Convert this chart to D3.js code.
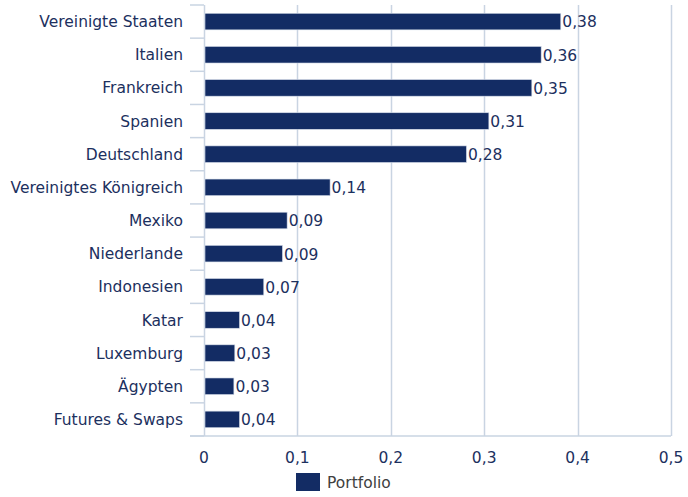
<!DOCTYPE html>
<html>
<head>
<meta charset="utf-8">
<script src="https://cdn.jsdelivr.net/npm/d3@7"></script>
<style>
  body { margin: 0; background: #fff; }
  text { font-family: "DejaVu Sans", Verdana, sans-serif; }
</style>
</head>
<body>
<div id="plot_area"></div>
<script>
// data
var countries = ["Vereinigte Staaten", "Italien", "Frankreich", "Spanien", "Deutschland",
  "Vereinigtes Königreich", "Mexiko", "Niederlande", "Indonesien", "Katar",
  "Luxemburg", "Ägypten", "Futures & Swaps"]
var portfolio = [0.382, 0.361, 0.351, 0.305, 0.281, 0.135, 0.089, 0.084, 0.064, 0.038, 0.033, 0.032, 0.038]
var valueLabels = ["0,38", "0,36", "0,35", "0,31", "0,28", "0,14", "0,09", "0,09", "0,07", "0,04", "0,03", "0,03", "0,04"]
var xTicks = [0, 0.1, 0.2, 0.3, 0.4, 0.5]
var seriesName = "Portfolio"

var W = 688, H = 497
var margin = {top: 5, right: 17, bottom: 61, left: 204}
var width = W - margin.left - margin.right,
    height = H - margin.top - margin.bottom

var barColor = "#132c64", textColor = "#1c305e", gridColor = "#c9d4e2"
var fs = 15.5

var svg = d3.select("#plot_area").append("svg")
  .attr("width", W).attr("height", H)

var g = svg.append("g")
  .attr("transform", "translate(" + margin.left + "," + margin.top + ")")

var x = d3.scaleLinear().domain([0, 0.5]).range([0, width])
var y = d3.scaleBand().domain(countries).range([0, height]).paddingInner(0.5).paddingOuter(0.25)

// vertical gridlines
g.selectAll(".grid")
  .data(xTicks.slice(1))
  .enter().append("line")
  .attr("class", "grid")
  .attr("x1", function(d) { return Math.round(x(d)) + 0.5 })
  .attr("x2", function(d) { return Math.round(x(d)) + 0.5 })
  .attr("y1", 0).attr("y2", height)
  .attr("stroke", gridColor).attr("stroke-width", 1.5)

// left axis with ticks between categories
var step = height / countries.length
var sep = d3.range(countries.length + 1)
g.selectAll(".sep")
  .data(sep)
  .enter().append("line")
  .attr("x1", -14).attr("x2", 0)
  .attr("y1", function(d) { return d * step }).attr("y2", function(d) { return d * step })
  .attr("stroke", gridColor).attr("stroke-width", 1.5)
g.append("line")
  .attr("x1", 0.5).attr("x2", 0.5).attr("y1", 0).attr("y2", height)
  .attr("stroke", gridColor).attr("stroke-width", 1.5)
g.append("line")
  .attr("x1", -14).attr("x2", width).attr("y1", height).attr("y2", height)
  .attr("stroke", gridColor).attr("stroke-width", 1.5)

// category labels
g.selectAll(".cat")
  .data(countries)
  .enter().append("text")
  .attr("x", -21)
  .attr("y", function(d) { return y(d) + y.bandwidth() / 2 })
  .attr("dy", "0.36em")
  .attr("text-anchor", "end")
  .attr("font-size", fs)
  .attr("fill", textColor)
  .text(function(d) { return d })

// x tick labels
g.selectAll(".xt")
  .data(xTicks)
  .enter().append("text")
  .attr("x", function(d) { return x(d) })
  .attr("y", height + 27)
  .attr("text-anchor", "middle")
  .attr("font-size", fs)
  .attr("fill", textColor)
  .text(function(d) { return String(d).replace(".", ",") })

// bars
g.selectAll(".bar")
  .data(portfolio)
  .enter().append("rect")
  .attr("x", 1)
  .attr("y", function(d, i) { return y(countries[i]) })
  .attr("width", function(d) { return x(d) - 1 })
  .attr("height", y.bandwidth())
  .attr("fill", barColor)
  .attr("stroke", "#d6dde9").attr("stroke-width", 0.6)

// value labels
g.selectAll(".val")
  .data(portfolio)
  .enter().append("text")
  .attr("x", function(d) { return x(d) + 1.5 })
  .attr("y", function(d, i) { return y(countries[i]) + y.bandwidth() / 2 })
  .attr("dy", "0.38em")
  .attr("font-size", fs)
  .attr("fill", textColor)
  .text(function(d, i) { return valueLabels[i] })

// legend
var lg = svg.append("g").attr("transform", "translate(296,473)")
lg.append("rect").attr("width", 24).attr("height", 18).attr("fill", barColor)
lg.append("text").attr("x", 31).attr("y", 9).attr("dy", "0.38em")
  .attr("font-size", fs).attr("fill", "#404040").text(seriesName)
</script>
</body>
</html>
